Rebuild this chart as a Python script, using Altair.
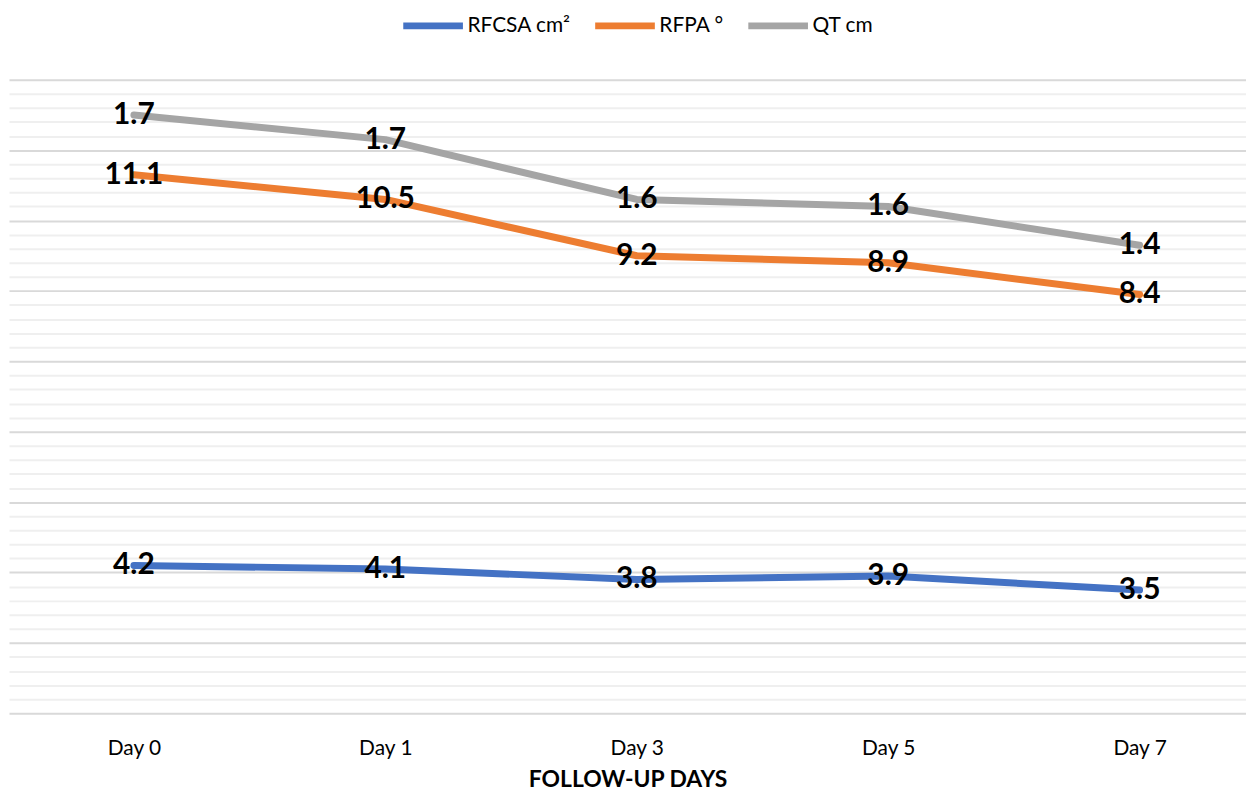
import altair as alt
import pandas as pd

days = ["Day 0", "Day 1", "Day 3", "Day 5", "Day 7"]
series = ["RFCSA cm²", "RFPA °", "QT cm"]
rfcsa = [4.2, 4.1, 3.8, 3.9, 3.5]
rfpa = [11.1, 10.5, 9.2, 8.9, 8.4]
qt = [1.7, 1.7, 1.6, 1.6, 1.4]
colors = ["#4472C4", "#ED7D31", "#A5A5A5"]

rows = []
for si, (name, vals) in enumerate(zip(series, [rfcsa, rfpa, qt])):
    for d, v in zip(days, vals):
        rows.append({"Day": d, "Series": name, "order": si, "value": v})
df = pd.DataFrame(rows)

FONT = "Lato"
grid_vals = [round(i * 0.4, 1) for i in range(46)]

x = alt.X("Day:N", sort=days, scale=alt.Scale(type="point", padding=0.46, align=0.54),
          axis=alt.Axis(title="FOLLOW-UP DAYS", labelAngle=0, ticks=False, domain=False,
                        labelFont=FONT, labelFontSize=21, labelColor="#000000", labelPadding=24,
                        titleFont=FONT, titleFontSize=23, titleFontWeight="bold",
                        titleColor="#000000", titlePadding=11))
y = alt.Y("cum:Q", scale=alt.Scale(domain=[0, 18], nice=False, zero=True),
          axis=alt.Axis(title=None, labels=False, ticks=False, domain=False, values=grid_vals,
                        gridColor={"condition": {"test": "abs(datum.value/2 - round(datum.value/2)) < 0.01",
                                                 "value": "#d9d9d9"}, "value": "#efefef"},
                        gridWidth=2))

base = alt.Chart(df).transform_window(
    cum="sum(value)", sort=[alt.SortField("order")], groupby=["Day"], frame=[None, 0]
)

lines = base.mark_line(strokeWidth=7, strokeCap="round", strokeJoin="round").encode(
    x=x, y=y,
    color=alt.Color("Series:N", sort=series,
                    scale=alt.Scale(domain=series, range=colors),
                    legend=alt.Legend(title=None, orient="none", direction="horizontal",
                                      legendX=393, legendY=-88, symbolType="stroke",
                                      symbolSize=3600, symbolStrokeWidth=7,
                                      labelFont=FONT, labelFontSize=21, labelColor="#000000",
                                      columnPadding=10, labelOffset=1)),
    order=alt.Order("order:Q"),
    detail="Series:N",
)

labels = base.mark_text(font=FONT, fontSize=30, fontWeight="bold", color="#000000",
                        baseline="middle", align="center").encode(
    x=x, y=y, text=alt.Text("value:Q", format=".1f"),
)

chart = alt.layer(lines, labels).properties(
    width=1244, height=637,
    autosize=alt.AutoSizeParams(type="none"),
    padding={"left": 1, "top": 70, "right": 0, "bottom": 80},
).configure(background="#ffffff").configure_view(stroke=None)

chart.save("out.html", embed_options={"renderer": "svg", "actions": False})
